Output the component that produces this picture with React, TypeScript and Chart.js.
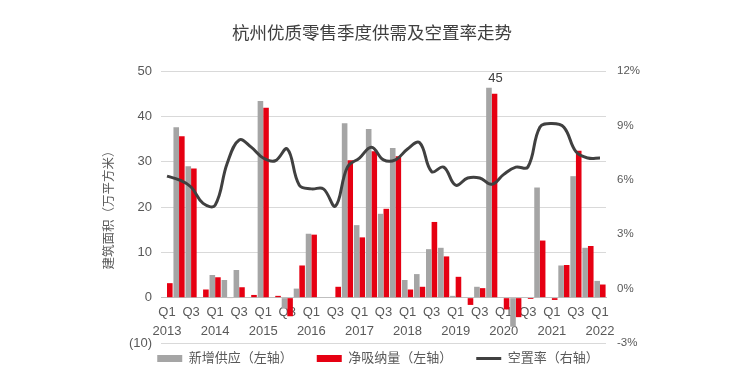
import React, { useEffect, useRef } from "react";
import { Chart, registerables } from "chart.js";

Chart.register(...registerables);

const chartTitle = "杭州优质零售季度供需及空置率走势";
const leftAxisTitle = "建筑面积（万平方米）";

const categories = [
  "2013Q1", "2013Q2", "2013Q3", "2013Q4",
  "2014Q1", "2014Q2", "2014Q3", "2014Q4",
  "2015Q1", "2015Q2", "2015Q3", "2015Q4",
  "2016Q1", "2016Q2", "2016Q3", "2016Q4",
  "2017Q1", "2017Q2", "2017Q3", "2017Q4",
  "2018Q1", "2018Q2", "2018Q3", "2018Q4",
  "2019Q1", "2019Q2", "2019Q3", "2019Q4",
  "2020Q1", "2020Q2", "2020Q3", "2020Q4",
  "2021Q1", "2021Q2", "2021Q3", "2021Q4",
  "2022Q1",
];

const shownQuarters = ["Q1", "Q3"];
const yearShownWith = "Q1";

const seriesNames = ["新增供应（左轴）", "净吸纳量（左轴）", "空置率（右轴）"];

const newSupply = [
  0, 37.6, 29.0, 0,
  5.0, 3.9, 6.1, 0,
  43.4, 0, -2.4, 2.0,
  14.1, 0, 0, 38.5,
  16.0, 37.2, 18.5, 33.0,
  3.9, 5.2, 10.7, 11.0,
  0.4, 0, 2.4, 46.3,
  0, -6.4, 0, 24.3,
  0, 7.1, 26.8, 11.0,
  3.7,
];

const netAbsorption = [
  3.2, 35.6, 28.5, 1.8,
  4.5, -0.1, 2.3, 0.6,
  41.9, 0.4, -4.1, 7.1,
  13.9, 0, 2.4, 30.3,
  13.3, 32.3, 19.6, 31.2,
  1.8, 2.4, 16.7, 9.1,
  4.6, -1.6, 2.1, 45.0,
  -2.6, -4.3, -0.3, 12.6,
  -0.5, 7.2, 32.4, 11.4,
  2.9,
];

const vacancyRate = [
  6.2, 6.0, 5.6, 4.7,
  4.6, 6.9, 8.2, 7.8,
  7.2, 7.05, 7.7, 5.7,
  5.5, 5.5, 4.55, 6.7,
  7.2, 7.8, 7.1, 7.1,
  7.7, 8.05, 6.45, 6.7,
  5.7, 6.1, 6.1, 5.75,
  6.3, 6.7, 6.7, 8.9,
  9.1, 8.9, 7.55, 7.2,
  7.2,
];

// left axis range and step (万平方米)
const leftMin = -10;
const leftMax = 50;
const leftStep = 10;
// right axis range and step (%)
const rightMin = -3;
const rightMax = 12;
const rightStep = 3;

// data labels shown on the chart: [category index, text]
const dataLabels: [number, string][] = [[27, "45"]];

const FONT = "'Liberation Sans', 'Noto Sans CJK SC', Arial, sans-serif";
const TEXT = "#595959";

const dataLabelPlugin = {
  id: "dataLabelPlugin",
  afterDatasetsDraw(chart: any) {
    const ctx = chart.ctx;
    const ys = chart.scales.y;
    const redMeta = chart.getDatasetMeta(1);
    ctx.save();
    ctx.font = `13px ${FONT}`;
    ctx.fillStyle = "#404040";
    ctx.textAlign = "center";
    ctx.textBaseline = "bottom";
    dataLabels.forEach(([idx, text]) => {
      const el = redMeta.data[idx];
      if (!el) return;
      const top = Math.max(newSupply[idx], netAbsorption[idx]);
      ctx.fillText(text, el.x + 1, ys.getPixelForValue(top) - 3);
    });
    ctx.restore();
  },
};

const legendShiftPlugin = {
  id: "legendShiftPlugin",
  afterLayout(chart: any) {
    const lg = chart.legend;
    if (!lg) return;
    lg.top -= 15;
    lg.bottom -= 15;
    lg.left += 6;
    lg.right += 6;
  },
};

export default function App() {
  const canvasRef = useRef<HTMLCanvasElement | null>(null);

  useEffect(() => {
    document.body.style.margin = "0";
    const canvas = canvasRef.current;
    if (!canvas) return;

    const chart = new Chart(canvas, {
      type: "bar",
      data: {
        labels: categories,
        datasets: [
          {
            type: "bar",
            label: seriesNames[0],
            data: newSupply,
            backgroundColor: "#A5A5A5",
            borderWidth: 0,
            yAxisID: "y",
            order: 1,
            categoryPercentage: 0.93,
            barPercentage: 1.0,
            pointStyle: "rect",
          } as any,
          {
            type: "bar",
            label: seriesNames[1],
            data: netAbsorption,
            backgroundColor: "#E60012",
            borderWidth: 0,
            yAxisID: "y",
            order: 1,
            categoryPercentage: 0.93,
            barPercentage: 1.0,
            pointStyle: "rect",
          } as any,
          {
            type: "line",
            label: seriesNames[2],
            data: vacancyRate,
            borderColor: "#404040",
            backgroundColor: "#404040",
            borderWidth: 3,
            pointRadius: 0,
            pointHoverRadius: 0,
            tension: 0.4,
            yAxisID: "y1",
            order: 0,
            pointStyle: "line",
          } as any,
        ],
      },
      options: {
        responsive: false,
        animation: false,
        events: [],
        layout: { padding: { left: 0, right: 0, top: 0, bottom: 0 } },
        font: { family: FONT },
        scales: {
          x: {
            type: "category",
            position: { y: 0 } as any,
            offset: true,
            grid: { display: false, drawTicks: false },
            border: { display: true, color: "#BFBFBF", width: 1 },
            ticks: {
              autoSkip: false,
              maxRotation: 0,
              minRotation: 0,
              padding: 6,
              color: TEXT,
              font: { size: 13, family: FONT, lineHeight: 1.4 },
              callback: (_v: any, index: number) => {
                const c = categories[index];
                const year = c.slice(0, 4);
                const q = c.slice(4);
                if (!shownQuarters.includes(q)) return "";
                return q === yearShownWith ? [q, year] : q;
              },
            },
          },
          y: {
            type: "linear",
            position: "left",
            min: leftMin,
            max: leftMax,
            afterFit: (scale: any) => {
              scale.width = 161;
            },
            ticks: {
              stepSize: leftStep,
              padding: 9,
              color: TEXT,
              font: { size: 13, family: FONT },
              callback: (v: any) => (Number(v) < 0 ? `(${-Number(v)})` : `${v}`),
            },
            grid: { color: "#D9D9D9", drawTicks: false, lineWidth: 1 },
            border: { display: false },
            title: {
              display: true,
              text: leftAxisTitle,
              color: TEXT,
              font: { size: 12.5, family: FONT },
              padding: { top: 102.5, bottom: 0 },
            },
          },
          y1: {
            type: "linear",
            position: "right",
            min: rightMin,
            max: rightMax,
            afterFit: (scale: any) => {
              scale.width = 138;
            },
            ticks: {
              stepSize: rightStep,
              padding: 11,
              color: TEXT,
              font: { size: 11.5, family: FONT },
              callback: (v: any) => `${v}%`,
            },
            grid: { display: false, drawTicks: false },
            border: { display: false },
          },
        },
        plugins: {
          title: {
            display: true,
            text: chartTitle,
            color: "#404040",
            font: { size: 17.5, weight: "normal", family: FONT },
            padding: { top: 24, bottom: 26 },
          },
          legend: {
            display: true,
            position: "bottom",
            maxHeight: 44,
            labels: {
              usePointStyle: true,
              pointStyleWidth: 25,
              boxWidth: 25,
              boxHeight: 7,
              padding: 24,
              color: TEXT,
              font: { size: 13, family: FONT },
              sort: (a: any, b: any) => a.datasetIndex - b.datasetIndex,
            },
          },
          tooltip: { enabled: false },
        },
      },
      plugins: [dataLabelPlugin, legendShiftPlugin],
    });

    return () => {
      chart.destroy();
    };
  }, []);

  return (
    <div style={{ width: 744, height: 387, background: "#ffffff" }}>
      <canvas ref={canvasRef} width={744} height={387} />
    </div>
  );
}
